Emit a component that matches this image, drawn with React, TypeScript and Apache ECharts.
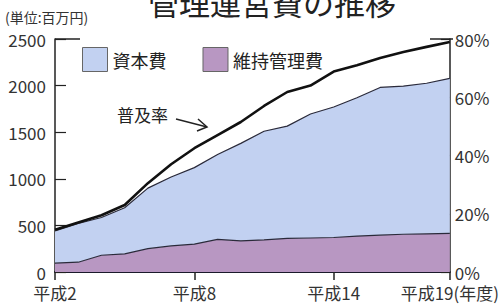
import React, { useEffect, useRef } from "react";
import * as echarts from "echarts";

const years = ["平成2", "平成3", "平成4", "平成5", "平成6", "平成7", "平成8", "平成9", "平成10", "平成11", "平成12", "平成13", "平成14", "平成15", "平成16", "平成17", "平成18", "平成19"];
const maintenance = [95, 105, 180, 195, 250, 280, 300, 350, 335, 345, 360, 365, 370, 385, 395, 405, 410, 415];
const capital = [345, 415, 405, 495, 650, 740, 820, 910, 1045, 1165, 1205, 1330, 1400, 1485, 1585, 1590, 1615, 1663];
const rate = [14.5, 17, 19.5, 23, 30.5, 37, 42.5, 47, 51.5, 57, 61.8, 64, 68.8, 71, 73.5, 75.5, 77.3, 79];
const shownYears = [0, 6, 12, 17];

const FONT = "'Noto Sans CJK JP', 'Noto Sans', sans-serif";
const BLUE = "#c2d1f1";
const PURPLE = "#b897c2";

export default function App() {
  const ref = useRef<HTMLDivElement>(null);
  useEffect(() => {
    if (!ref.current) return;
    const chart = echarts.init(ref.current, null, { renderer: "svg" });
    chart.setOption({
      animation: false,
      backgroundColor: "#ffffff",
      textStyle: { fontFamily: FONT },
      title: {
        text: "管理運営費の推移",
        left: 143,
        top: -19,
        textStyle: { fontSize: 31, fontWeight: "normal", color: "#222", fontFamily: FONT },
      },
      legend: {
        data: ["資本費", "維持管理費"],
        left: 77,
        top: 42,
        icon: "rect",
        itemWidth: 25,
        itemHeight: 24,
        itemGap: 36,
        textStyle: { fontSize: 18, color: "#222", fontFamily: FONT },
        itemStyle: { borderColor: "#666", borderWidth: 1 },
      },
      grid: { left: 55, right: 49, top: 39, bottom: 36 },
      xAxis: {
        type: "category",
        data: years,
        boundaryGap: false,
        axisLine: { lineStyle: { color: "#1a1a2a", width: 2 } },
        axisTick: {
          show: true,
          length: 8,
          interval: (i: number) => shownYears.includes(i),
          lineStyle: { color: "#222", width: 1.5 },
        },
        axisLabel: {
          interval: (i: number) => shownYears.includes(i),
          formatter: (v: string, i: number) => (i === years.length - 1 ? v + "(年度)" : v),
          fontSize: 17,
          lineHeight: 15,
          color: "#333",
          margin: 13,
          fontFamily: FONT,
        },
        splitLine: { show: false },
      },
      yAxis: [
        {
          type: "value",
          min: 0,
          max: 2500,
          interval: 500,
          axisLine: { show: true, lineStyle: { color: "#222", width: 1.5 } },
          axisTick: { show: true, inside: true, length: 11, lineStyle: { color: "#222", width: 1.2 } },
          axisLabel: { fontSize: 17, lineHeight: 14, color: "#333", margin: 9, fontFamily: FONT, formatter: (v: number) => String(v) },
          splitLine: { show: false },
        },
        {
          type: "value",
          min: 0,
          max: 80,
          interval: 20,
          axisLine: { show: true, lineStyle: { color: "#222", width: 1.5 } },
          axisTick: { show: true, inside: true, length: 9, lineStyle: { color: "#222", width: 1.2 } },
          axisLabel: { fontSize: 17, lineHeight: 14, color: "#333", margin: 5, formatter: "{value}%", fontFamily: FONT },
          splitLine: { show: false },
        },
      ],
      series: [
        {
          name: "維持管理費",
          type: "line",
          stack: "cost",
          data: maintenance,
          symbol: "none",
          itemStyle: { color: PURPLE },
          lineStyle: { color: "#2a2a3a", width: 1.2 },
          areaStyle: { color: PURPLE, opacity: 1 },
        },
        {
          name: "資本費",
          type: "line",
          stack: "cost",
          data: capital,
          symbol: "none",
          itemStyle: { color: BLUE },
          lineStyle: { color: "#2a2a3a", width: 1.2 },
          areaStyle: { color: BLUE, opacity: 1 },
        },
        {
          name: "普及率",
          type: "line",
          yAxisIndex: 1,
          data: rate,
          symbol: "none",
          z: 5,
          lineStyle: { color: "#111", width: 2.6 },
          itemStyle: { color: "#111" },
        },
      ],
      graphic: [
        {
          type: "text",
          left: 5,
          top: 10,
          style: { text: "(単位:百万円)", fontSize: 14, fill: "#333", fontFamily: FONT },
        },
        {
          type: "text",
          left: 117,
          top: 106,
          style: { text: "普及率", fontSize: 17, fill: "#222", fontFamily: FONT },
        },
        {
          type: "line",
          shape: { x1: 176, y1: 119, x2: 207, y2: 127 },
          style: { stroke: "#222", lineWidth: 1.5 },
        },
        {
          type: "polyline",
          shape: { points: [[198, 119], [207, 127], [197, 131]] },
          style: { stroke: "#222", lineWidth: 1.5, fill: "none" },
        },
        {
          type: "line",
          shape: { x1: 55, y1: 39, x2: 80, y2: 39 },
          style: { stroke: "#222", lineWidth: 1.5 },
        },
        {
          type: "line",
          shape: { x1: 430, y1: 39, x2: 453, y2: 39 },
          style: { stroke: "#222", lineWidth: 1.5 },
        },
      ],
    });
    return () => chart.dispose();
  }, []);
  return <div ref={ref} style={{ width: 502, height: 308, position: "absolute", left: 0, top: 0 }} />;
}
